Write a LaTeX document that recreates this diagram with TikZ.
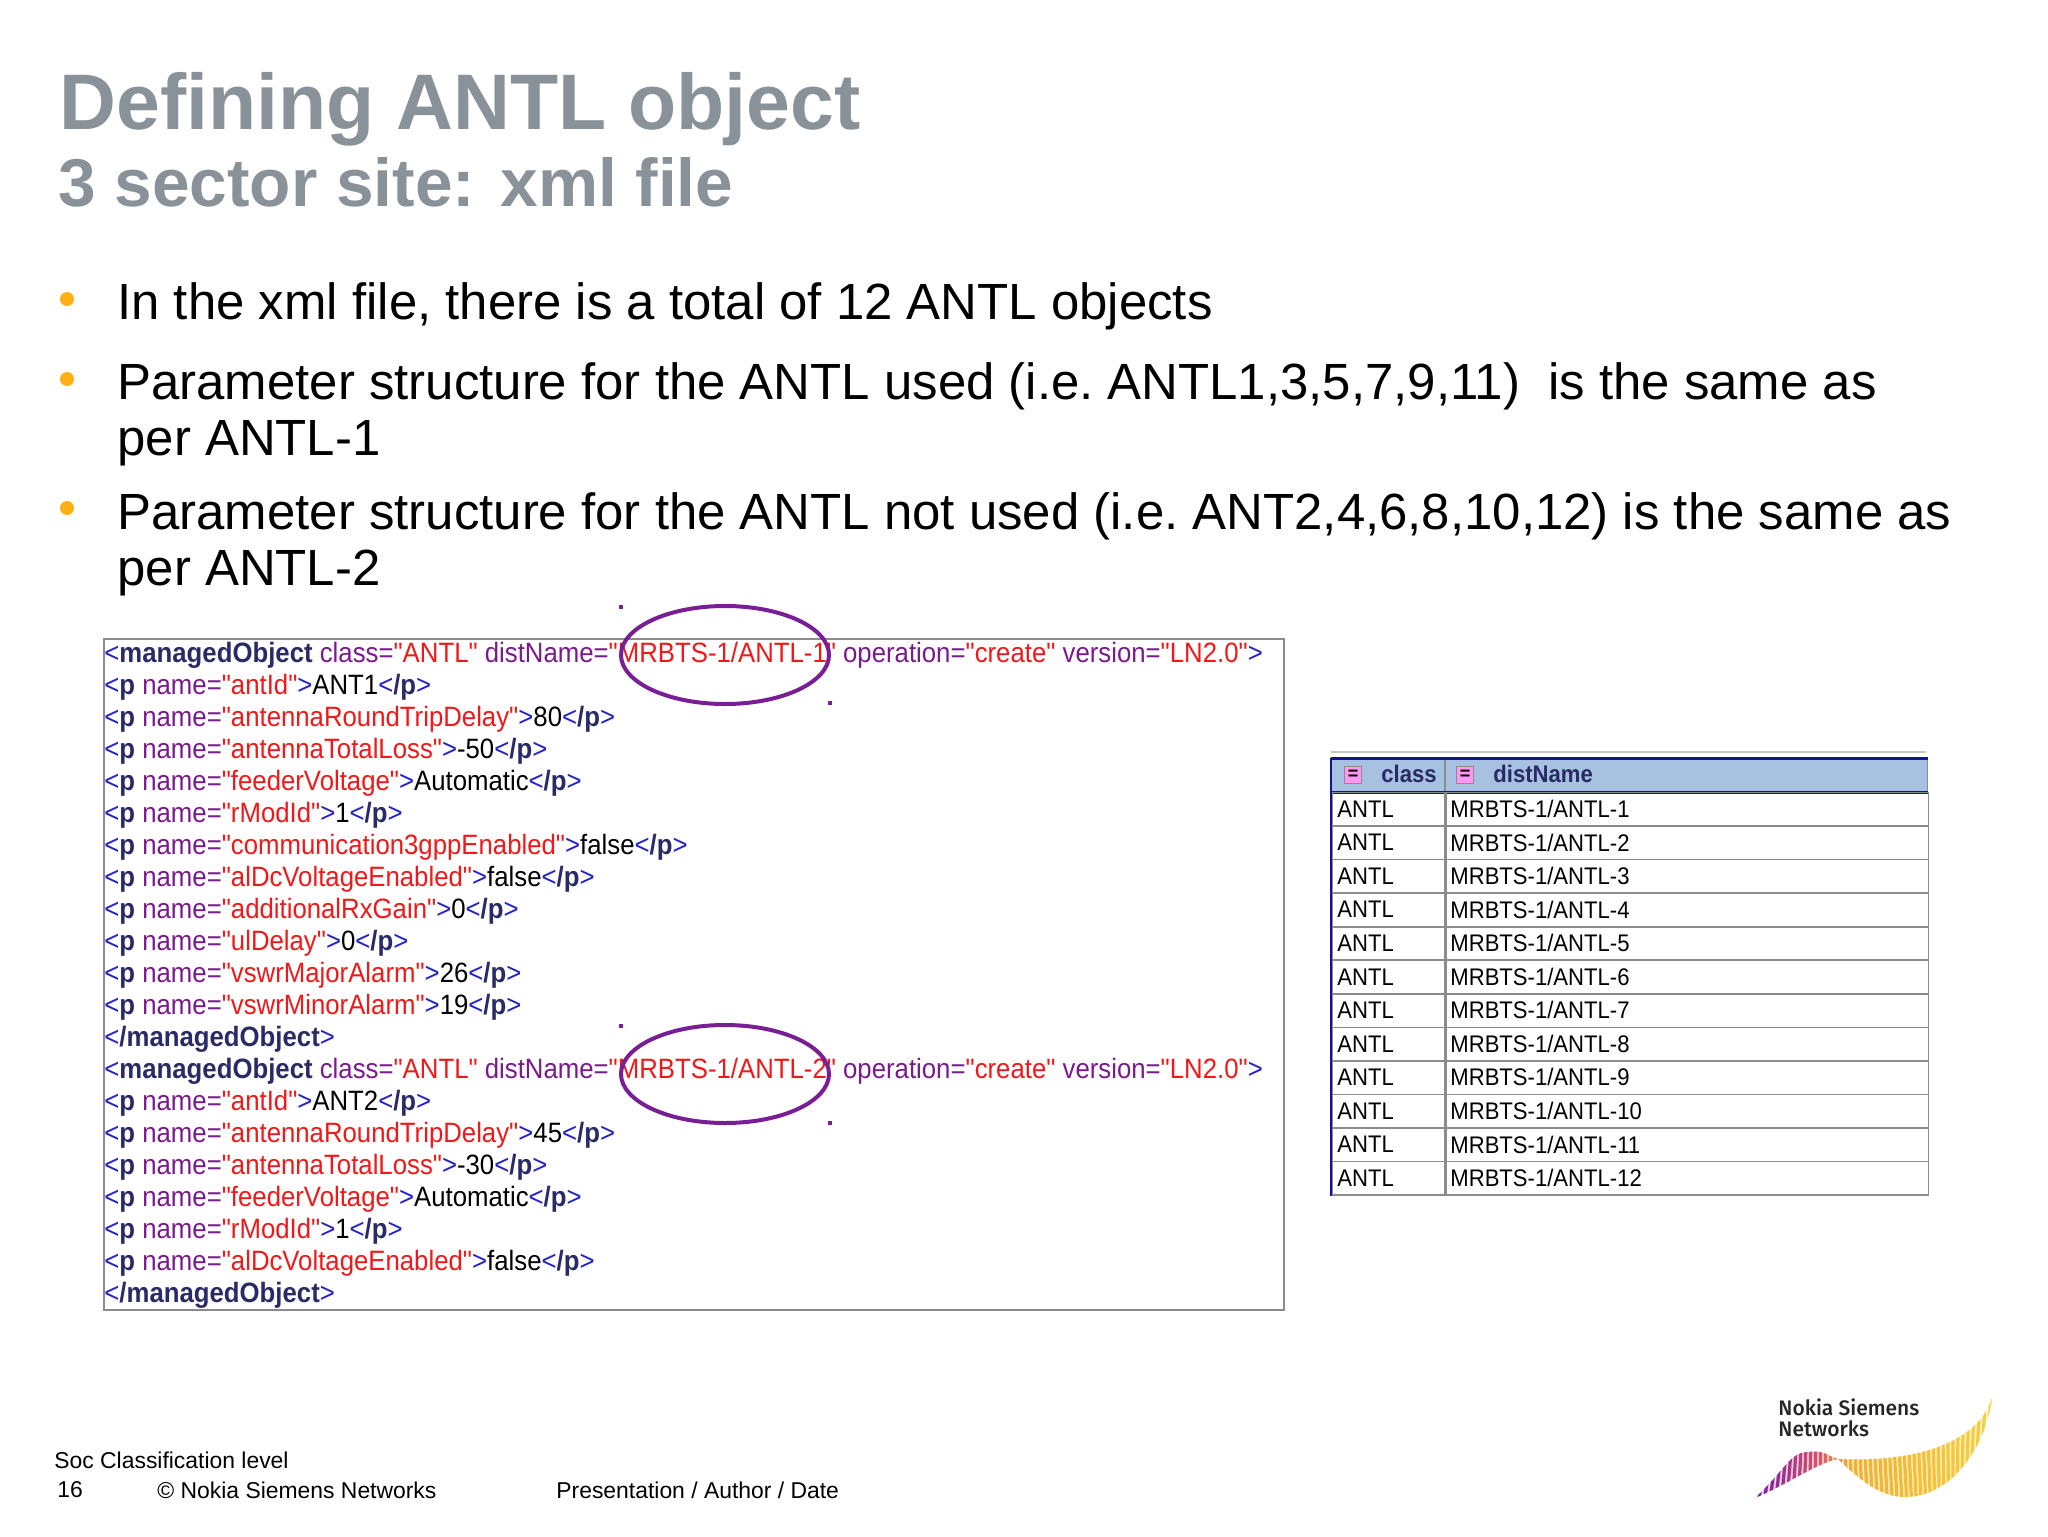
\documentclass[tikz,border=0pt]{standalone}
\usepackage{fontspec}
\setmainfont{Liberation Sans}
\newfontfamily\xmlfont[FakeStretch=0.92]{Liberation Sans}
\newfontfamily\logofont[BoldFont={Fira Sans Medium}]{Fira Sans}
\usepackage{xcolor}
\usetikzlibrary{calc,positioning,shapes.geometric}
\definecolor{titlegray}{HTML}{8A9299}
\definecolor{bulletorange}{HTML}{FBB116}
\definecolor{xblue}{HTML}{2222C8}
\definecolor{xnavy}{HTML}{2A2A66}
\definecolor{xpurple}{HTML}{7A1A8C}
\definecolor{xred}{HTML}{F01818}
\definecolor{ringpurple}{HTML}{7A1E96}
\definecolor{headblue}{HTML}{A6C2E0}
\definecolor{headnavy}{HTML}{14148C}
\definecolor{gridgray}{HTML}{8C8C8C}
\definecolor{btnpink}{HTML}{FF99F0}
\definecolor{wavepurple}{HTML}{6A0DAD}
\definecolor{wavered}{HTML}{D9566A}
\definecolor{waveamber}{HTML}{F0B030}
\definecolor{waveyellow}{HTML}{F5D040}
\newcommand{\xp}[2]{{\color{xblue}<}{\color{xnavy}\bfseries p} {\color{xpurple}name=}{\color{xred}"#1"}{\color{xblue}>}{\color{black}#2}{\color{xblue}<}{\color{xnavy}\bfseries /p}{\color{xblue}>}}
\newcommand{\xobj}[1]{{\color{xblue}<}{\color{xnavy}\bfseries managedObject} {\color{xpurple}class=}{\color{xred}"ANTL"} {\color{xpurple}distName=}{\color{xred}"MRBTS-1/ANTL-#1"} {\color{xpurple}operation=}{\color{xred}"create"} {\color{xpurple}version=}{\color{xred}"LN2.0"}{\color{xblue}>}}
\newcommand{\xend}{{\color{xblue}<}{\color{xnavy}\bfseries /managedObject}{\color{xblue}>}}
\begin{document}
\begin{tikzpicture}[
  x=0.5pt, y=-0.5pt,
  titletext/.style={anchor=west, inner sep=0pt, text=titlegray, font=\bfseries\fontsize{39.4}{44}\selectfont},
  subtext/.style={anchor=west, inner sep=0pt, text=titlegray, font=\bfseries\fontsize{33.8}{38}\selectfont},
  bullettext/.style={anchor=north west, inner sep=0pt, align=left, font=\fontsize{25.46}{28}\selectfont\frenchspacing},
  bulletdot/.style={circle, fill=bulletorange, inner sep=0pt, minimum size=7pt},
  xmlframe/.style={draw=gridgray, line width=1pt, anchor=north west, inner sep=0pt, minimum width=590pt, minimum height=335.5pt},
  xmlrow/.style={anchor=west, inner sep=0pt, font=\xmlfont\fontsize{14}{16}\selectfont},
  ring/.style={ellipse, draw=ringpurple, line width=2pt, inner sep=0pt, minimum width=104pt, minimum height=49pt},
  handle/.style={fill=ringpurple, inner sep=0pt, minimum size=2pt},
  headcell/.style={fill=headblue, draw=gridgray, anchor=north west, inner sep=0pt, minimum height=16.8pt},
  namecell/.style={draw=gridgray, line width=0.8pt, anchor=north west, inner sep=0pt, minimum height=16.8pt},
  celltext/.style={anchor=west, inner sep=0pt, font=\xmlfont\fontsize{12}{14}\selectfont},
  btn/.style={fill=btnpink, draw=gridgray, line width=0.3pt, inner sep=0pt, minimum width=8.5pt, minimum height=8.5pt, font=\bfseries\fontsize{9}{9}\selectfont},
  headtext/.style={anchor=west, inner sep=0pt, text=xnavy, font=\bfseries\xmlfont\fontsize{12}{14}\selectfont},
  foot/.style={anchor=west, inner sep=0pt, font=\fontsize{11.45}{14}\selectfont},
  logotext/.style={anchor=north west, inner sep=0pt, align=left, text=black!85, font=\logofont\bfseries\fontsize{10.5}{10.5}\selectfont}
]
\useasboundingbox (0,0) rectangle (2048,1536);
\node[titletext] (title) at (59,109) {Defining ANTL object};
\node[subtext] (subtitle) at (58,182) {3 sector site: xml file};

\node[bulletdot] (dot1) at (67,299) {};
\node[bulletdot] (dot2) at (67,379) {};
\node[bulletdot] (dot3) at (67,508) {};
\node[bullettext] (bul1) at (117,282) {In the xml file, there is a total of 12 ANTL objects};
\node[bullettext] (bul2) at (117,362) {Parameter structure for the ANTL used (i.e. ANTL1,3,5,7,9,11)\ \ is the same as\\per ANTL-1};
\node[bullettext] (bul3) at (117,492) {Parameter structure for the ANTL not used (i.e. ANT2,4,6,8,10,12) is the same as\\per ANTL-2};

\node[xmlframe] (xmlbox) at (103,638) {};
\node[xmlrow] (row1) at (104,655) {\xobj{1}};
\foreach \name/\val [count=\i from 2] in {antId/ANT1,antennaRoundTripDelay/80,antennaTotalLoss/-50,feederVoltage/Automatic,rModId/1,communication3gppEnabled/false,alDcVoltageEnabled/false,additionalRxGain/0,ulDelay/0,vswrMajorAlarm/26,vswrMinorAlarm/19}
  \node[xmlrow] (row\i) at (104,{655+32*(\i-1)}) {\xp{\name}{\val}};
\node[xmlrow] (row13) at (104,1039) {\xend};
\node[xmlrow] (row14) at (104,1071) {\xobj{2}};
\foreach \name/\val [count=\i from 15] in {antId/ANT2,antennaRoundTripDelay/45,antennaTotalLoss/-30,feederVoltage/Automatic,rModId/1,alDcVoltageEnabled/false}
  \node[xmlrow] (row\i) at (104,{655+32*(\i-1)}) {\xp{\name}{\val}};
\node[xmlrow] (row21) at (104,1295) {\xend};

\node[ring] (ring1) at (725,655) {};
\node[ring] (ring2) at (725,1074) {};
\node[handle] (h1a) at (621,607) {};
\node[handle] (h1b) at (830,703) {};
\node[handle] (h2a) at (621,1026) {};
\node[handle] (h2b) at (830,1123) {};

\draw[gridgray!50, line width=0.8pt] (1331,752) -- (1926,752);
\node[headcell, minimum width=56.5pt] (headclass) at (1331,758) {};
\node[headcell, minimum width=241pt, right=0pt of headclass] (headname) {};
\draw[headnavy, line width=1.5pt] (headclass.north west) -- (headname.north east);
\draw[headnavy, line width=1.5pt] (headclass.south west) -- (headname.south east);
\node[btn] (btn1) at (1353,775) {=};
\node[btn] (btn2) at (1465,775) {=};
\node[headtext] (lclass) at (1381,774) {class};
\node[headtext] (lname) at (1493,774) {distName};
\foreach \i in {1,...,12} {
  \node[namecell, minimum width=56.5pt] (c\i) at (1331,{791.7+33.55*(\i-1)}) {};
  \node[namecell, minimum width=241pt, right=0pt of c\i] (d\i) {};
  \node[celltext] (ct\i) at (1337,{809+33.55*(\i-1)}) {ANTL};
  \node[celltext] (dt\i) at (1450,{809+33.55*(\i-1)}) {MRBTS-1/ANTL-\i};
}
\draw[headnavy, line width=1pt] (headclass.north west) -- (c12.south west);

\node[foot] (soc) at (54,1460) {Soc Classification level};
\node[foot] (page) at (57,1490) {16};
\node[foot] (copy) at (157,1490) {\textcopyright{} Nokia Siemens Networks};
\node[foot] (pres) at (556,1490) {Presentation / Author / Date};

\node[logotext] (logo) at (1778,1398) {Nokia Siemens\\Networks};
\begin{scope}
\clip (1755,1498) .. controls (1785,1470) and (1790,1452) .. (1808,1452) .. controls (1825,1450) and (1825,1455) .. (1838,1459) .. controls (1900,1462) and (1975,1450) .. (1992,1398) .. controls (1985,1450) and (1950,1497) .. (1905,1497) .. controls (1880,1497) and (1860,1480) .. (1838,1459) .. controls (1815,1464) and (1790,1483) .. cycle;
\foreach \s in {0,...,50} {
  \pgfmathsetmacro{\px}{1752+\s*4.9}
  \pgfmathsetmacro{\dx}{20*((\s-28)/22)^2-7}
  \pgfmathtruncatemacro{\ta}{min(100,\s*100/14)}
  \pgfmathtruncatemacro{\tb}{min(100,max(0,(\s-14)*100/6))}
  \pgfmathtruncatemacro{\tc}{min(100,max(0,(\s-20)*100/28))}
  \colorlet{stripecol}{wavered!\ta!wavepurple}
  \colorlet{stripecol}{waveamber!\tb!stripecol}
  \colorlet{stripecol}{waveyellow!\tc!stripecol}
  \draw[stripecol, opacity=0.3, line width=2.45pt] ({\px-\dx/2},1510) -- ({\px+\dx/2},1385);
  \draw[stripecol, line width=1.6pt] ({\px-\dx/2},1510) -- ({\px+\dx/2},1385);
}
\end{scope}
\end{tikzpicture}
\end{document}
